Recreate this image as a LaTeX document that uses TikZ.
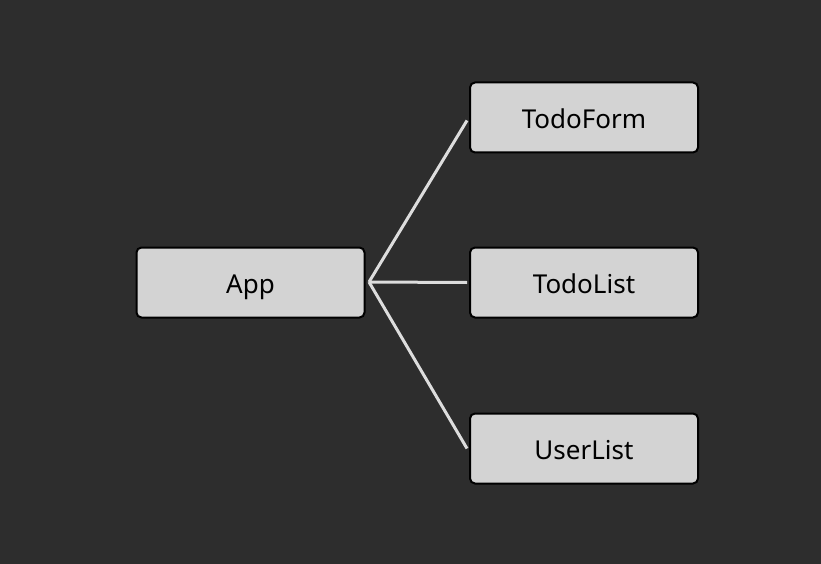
\documentclass[tikz,border=0pt]{standalone}
\usepackage{fontspec}
\setmainfont{Noto Sans}
\definecolor{bg}{HTML}{2D2D2D}
\definecolor{boxfill}{HTML}{D3D3D3}
\definecolor{linecol}{HTML}{DDDDDD}
\begin{document}
\begin{tikzpicture}[x=1pt,y=-1pt,
  comp/.style={draw=black, line width=2pt, fill=boxfill, rounded corners=5pt,
    minimum width=228pt, minimum height=70pt, inner sep=0pt,
    text height=22pt, text depth=0pt,
    font=\fontsize{26}{30}\selectfont, text=black},
  link/.style={draw=linecol, line width=3pt}]
\fill[bg] (0,0) rectangle (821,564);
\useasboundingbox (0,0) rectangle (821,564);
\node[comp] (app) at (250.5,282.5) {App};
\node[comp] (form) at (584,117.5) {TodoForm};
\node[comp] (list) at (584,282.5) {TodoList};
\node[comp] (users) at (584,448.5) {UserList};
\coordinate (s) at (369,282);
\draw[link] (s) -- ([xshift=-2pt,yshift=-3pt]form.west);
\draw[link] (s) -- ([xshift=-2pt]list.west);
\draw[link] (s) -- ([xshift=-2pt]users.west);
\end{tikzpicture}
\end{document}
